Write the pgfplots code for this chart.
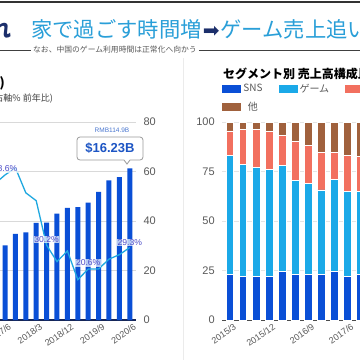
\documentclass[border=0pt]{standalone}
\usepackage{pgfplots}
\pgfplotsset{compat=1.18}
\usepackage{fontspec}
\setmainfont{Liberation Sans}
\newfontfamily\jp{Noto Sans CJK JP}
\newfontfamily\dv{DejaVu Sans}
\definecolor{barblue}{HTML}{0A4FD6}
\definecolor{linecyan}{HTML}{1FA8E0}
\definecolor{lblpurple}{HTML}{4B4BC8}
\definecolor{gameblue}{HTML}{1BA9E8}
\definecolor{salmonc}{HTML}{F2705F}
\definecolor{brownc}{HTML}{A0613D}
\definecolor{titlecyan}{HTML}{2A9FD8}
\definecolor{navy}{HTML}{1C2F6B}
\definecolor{ticktext}{HTML}{595959}
\definecolor{gridc}{HTML}{D9D9D9}
\definecolor{calloutblue}{HTML}{1D55C4}

\pgfplotstableread{
x sns game ad other
0 23.2 59.8 12.5 4.5
1 22.2 56.4 17.7 3.7
2 22.2 54.9 19.2 3.7
3 22.2 53.8 19.3 4.7
4 24.6 53.5 15.0 6.9
5 23.2 47.3 19.9 9.6
6 23.2 45.8 19.0 12.0
7 23.2 42.5 19.1 15.2
8 24.4 46.6 13.8 15.2
9 22.2 42.8 18.2 16.8
10 23.2 41.8 17.5 17.5
}\segtable

\begin{document}
\begin{tikzpicture}
\useasboundingbox (0pt,0pt) rectangle (360pt,-360pt);
\clip (0pt,0pt) rectangle (360pt,-360pt);
\fill[white] (0pt,0pt) rectangle (360pt,-360pt);

% ---------- left chart ----------
\begin{axis}[
  scale only axis, width=162.24pt, height=198pt,
  at={(-26.2pt,-320pt)}, anchor=south west,
  xmin=-3, xmax=12.6, ymin=0, ymax=80,
  axis x line*=bottom, axis y line*=right,
  y axis line style={draw=none},
  x axis line style={draw=navy!80!black, line width=1.2pt},
  major tick length=0pt,
  ytick={0,20,40,60,80},
  ymajorgrids, grid style={gridc, line width=0.8pt},
  xtick={0,3,6,9,12},
  xticklabels={2017/6,2018/3,2018/12,2019/9,2020/6},
  x tick label style={rotate=35, anchor=north east, font=\fontsize{9}{10}\selectfont, text=ticktext, inner sep=1pt, yshift=-3pt, xshift=2pt},
  y tick label style={font=\fontsize{11}{12}\selectfont, text=ticktext, anchor=west, xshift=4pt},
  /pgf/number format/assume math mode=true,
  clip=false,
]
\addplot[ybar, bar width=5pt, fill=barblue, draw=none] coordinates {
 (0,30.2) (1,34.8) (2,35.4) (3,39.2) (4,39.3) (5,43.0) (6,45.3)
 (7,45.6) (8,47.4) (9,51.8) (10,56.4) (11,57.7) (12,61.3)};
\addplot[linecyan, line width=1.3pt, mark=none] coordinates {
 (-2,52.0) (-1,55.0) (0,58.6) (1,61.5) (2,51.4) (3,48.2) (4,30.2) (5,23.6) (6,27.9)
 (7,16.3) (8,20.6) (9,20.6) (10,24.6) (11,26.4) (12,29.3)};
\tikzset{lbl/.style={font=\fontsize{8.6}{9}\selectfont, text=lblpurple, fill=white, fill opacity=0.7, text opacity=1, inner sep=0.6pt}}
\node[lbl] at (axis cs:0,58.6) [yshift=6pt] {58.6\%};
\node[lbl] at (axis cs:4,30.2) [yshift=6pt] {30.2\%};
\node[lbl] at (axis cs:8,20.6) [yshift=6pt] {20.6\%};
\node[lbl] at (axis cs:12,29.3) [yshift=5pt] {29.3\%};
\end{axis}

% ---------- right chart ----------
\begin{axis}[
  scale only axis, width=170.9pt, height=198pt,
  at={(222.17pt,-320pt)}, anchor=south west,
  xmin=-0.6, xmax=12.5, ymin=0, ymax=100,
  ybar stacked, bar width=7.5pt,
  axis x line*=bottom, axis y line*=left,
  y axis line style={draw=none},
  x axis line style={draw=black!70, line width=1pt},
  major tick length=0pt,
  ytick={0,25,50,75,100},
  ymajorgrids, grid style={gridc!70, line width=0.6pt},
  xtick={0,3,6,9,12},
  xticklabels={2015/3,2015/12,2016/9,2017/6,2018/3},
  x tick label style={rotate=35, anchor=north east, font=\fontsize{9}{10}\selectfont, text=ticktext, inner sep=1pt, yshift=-3pt, xshift=2pt},
  y tick label style={font=\fontsize{11}{12}\selectfont, text=ticktext, anchor=east, xshift=-4pt},
  /pgf/number format/assume math mode=true,
  legend columns=3,
  legend style={at={(axis description cs:0,1)}, anchor=south west, xshift=0pt, yshift=8pt,
    draw=none, fill=none, inner sep=0pt,
    font=\jp\fontsize{10}{11}\selectfont, text=ticktext,
    /tikz/every even column/.append style={column sep=14pt},
    row sep=4pt},
  legend image code/.code={\fill[#1, draw=none] (0pt,-3.8pt) rectangle (19pt,3.8pt);},
  clip=false,
]
\addplot[fill=barblue, draw=white, line width=0.6pt] table[x=x, y=sns] {\segtable};
\addplot[fill=gameblue, draw=white, line width=0.6pt] table[x=x, y=game] {\segtable};
\addplot[fill=salmonc, draw=white, line width=0.6pt] table[x=x, y=ad] {\segtable};
\addplot[fill=brownc, draw=white, line width=0.6pt] table[x=x, y=other] {\segtable};
\legend{SNS, ゲーム, 広告, 他}
\end{axis}

% ---------- annotations ----------
\begin{scope}[x=1pt, y=1pt]
% top rule
\draw[black!80, line width=2pt] (0,-2) -- (360,-2);
% title
\node[anchor=east, inner sep=0pt, text=navy, font=\jp\bfseries\fontsize{21}{24}\selectfont] at (12,-29) {れ};
\node[anchor=west, inner sep=0pt, font=\jp\fontsize{21.3}{24}\selectfont] at (31,-29)
  {\textcolor{titlecyan}{家で過ごす時間増}\hspace{1pt}{\dv\fontsize{20}{22}\selectfont\textcolor{navy}{➡}}\hspace{1pt}\textcolor{titlecyan}{ゲーム売上追い}};
% subtitle with rules
\draw[black!75, line width=0.9pt] (0,-50.5) -- (31,-50.5);
\draw[black!75, line width=0.9pt] (199,-50.5) -- (360,-50.5);
\node[anchor=west, inner sep=0pt, text=black!65, font=\jp\fontsize{7.8}{9}\selectfont] at (33,-50) {なお、中国のゲーム利用時間は正常化へ向かう};
% separator
\draw[black!8, line width=0.8pt] (183,-58) -- (183,-360);
% left chart titles
\node[anchor=east, inner sep=0pt, font=\jp\bfseries\fontsize{13}{15}\selectfont] at (5,-83) {)};
\node[anchor=east, inner sep=0pt, text=black!75, font=\jp\fontsize{9}{11}\selectfont] at (53,-99) {(右軸\% 前年比)};
% right chart title
\node[anchor=west, inner sep=0pt, font=\jp\bfseries\fontsize{12}{14}\selectfont] at (223,-74) {セグメント別 売上高構成比 (\%)};
% callout
\node[inner sep=0pt, text=calloutblue!80, font=\fontsize{6.5}{7}\selectfont] at (112,-130) {RMB114.9B};
\draw[black!40, line width=0.8pt, fill=white, rounded corners=3pt]
  (77,-137) -- (143,-137) -- (143,-160) [sharp corners] -- (130,-160) -- (127,-164) -- (124,-160) [rounded corners=3pt] -- (77,-160) -- cycle;
\node[inner sep=0pt, text=calloutblue, font=\bfseries\fontsize{13}{15}\selectfont] at (110,-148.5) {\$16.23B};
\end{scope}
\end{tikzpicture}
\end{document}
